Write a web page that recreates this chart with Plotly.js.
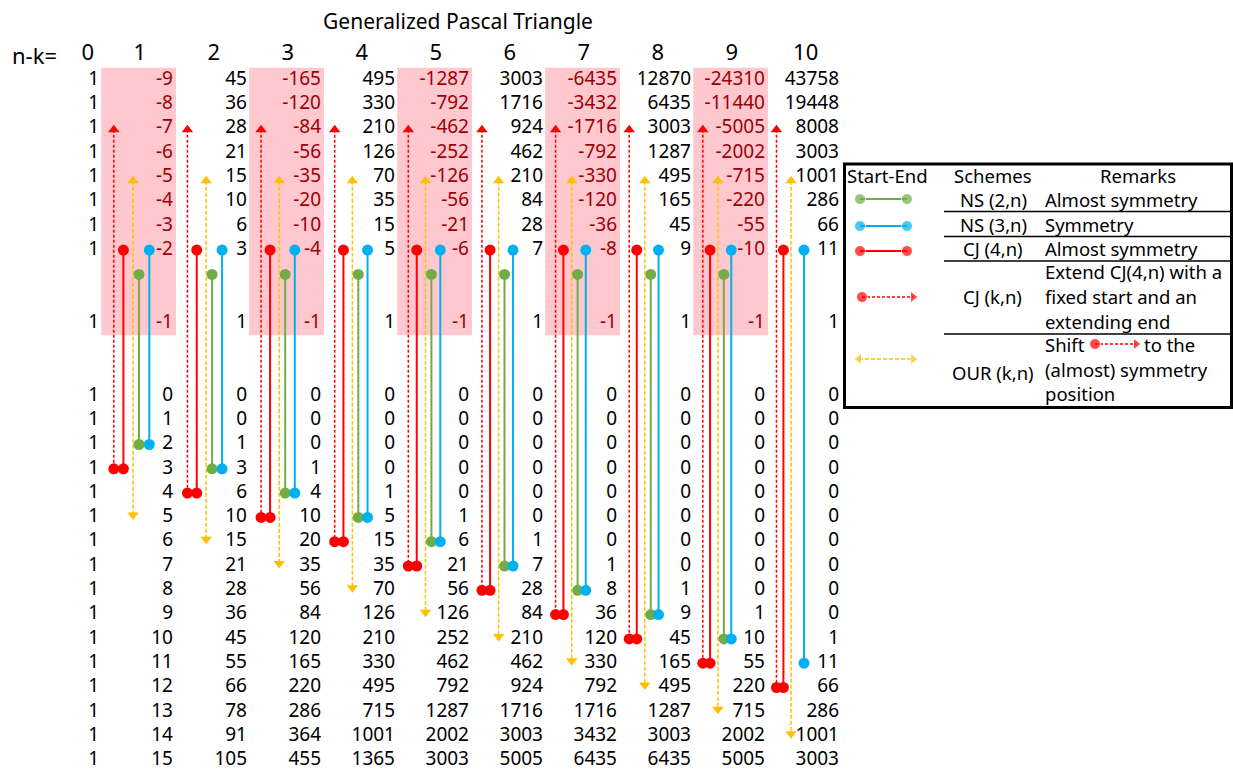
<!DOCTYPE html>
<html><head><meta charset="utf-8">
<script src="https://cdn.plot.ly/plotly-3.0.1.min.js"></script>
<style>html,body{margin:0;padding:0;background:#fff;}#chart{width:1233px;height:771px;}</style>
</head><body><div id="chart"></div>
<script>
// ---------- data ----------
const colLabels = ['0','1','2','3','4','5','6','7','8','9','10'];
const upperBlock = [
  [1,-9,45,-165,495,-1287,3003,-6435,12870,-24310,43758],
  [1,-8,36,-120,330,-792,1716,-3432,6435,-11440,19448],
  [1,-7,28,-84,210,-462,924,-1716,3003,-5005,8008],
  [1,-6,21,-56,126,-252,462,-792,1287,-2002,3003],
  [1,-5,15,-35,70,-126,210,-330,495,-715,1001],
  [1,-4,10,-20,35,-56,84,-120,165,-220,286],
  [1,-3,6,-10,15,-21,28,-36,45,-55,66],
  [1,-2,3,-4,5,-6,7,-8,9,-10,11]
];
const unitRow = [1,-1,1,-1,1,-1,1,-1,1,-1,1];
const lowerBlock = [
  [1,0,0,0,0,0,0,0,0,0,0],
  [1,1,0,0,0,0,0,0,0,0,0],
  [1,2,1,0,0,0,0,0,0,0,0],
  [1,3,3,1,0,0,0,0,0,0,0],
  [1,4,6,4,1,0,0,0,0,0,0],
  [1,5,10,10,5,1,0,0,0,0,0],
  [1,6,15,20,15,6,1,0,0,0,0],
  [1,7,21,35,35,21,7,1,0,0,0],
  [1,8,28,56,70,56,28,8,1,0,0],
  [1,9,36,84,126,126,84,36,9,1,0],
  [1,10,45,120,210,252,210,120,45,10,1],
  [1,11,55,165,330,462,462,330,165,55,11],
  [1,12,66,220,495,792,924,792,495,220,66],
  [1,13,78,286,715,1287,1716,1716,1287,715,286],
  [1,14,91,364,1001,2002,3003,3432,3003,2002,1001],
  [1,15,105,455,1365,3003,5005,6435,6435,5005,3003]
];
// scheme start/end (column n-k, and end row n of lower block)
const cjCols  = [1,2,3,4,5,6,7,8,9,10];
const cjEnd   = [3,4,5,6,7,8,9,10,11,12];
const ns3Cols = [1,2,3,4,5,6,7,8,9,10];
const ns3End  = [2,3,4,5,6,7,8,9,10,11];
const ns2Cols = [1,2,3,4,5,6,7,8,9];
const ns2End  = [2,3,4,5,6,7,8,9,10];
const ourCols = [1,2,3,4,5,6,7,8,9,10];
const ourEnd  = [5,6,7,8,9,10,11,12,13,14];
const shadedCols = [1,3,5,7,9];

// ---------- layout constants ----------
const RED='#FF0000', GREEN='#70AD47', BLUE='#00B0F0', GOLD='#FFC000',
      PINK='#FFC7CE', DARKRED='#9C0006', FONT='Noto Sans, Open Sans, sans-serif';
const UNIT_Y = 10, LOWER_Y0 = 13, HEADER_Y = -1.03;
const START_Y = 7, NS2_START_Y = 8, CJK_TIP_Y = 2.05, OUR_TIP_Y = 4.15;
const lowerY = n => LOWER_Y0 + n;
const offX = (c, base, slope) => c - base - slope * (c - 1);
const X_CJK = c => offX(c, 0.80, 0.005);
const X_CJ4 = c => offX(c, 0.67, 0.009);
const X_OUR = c => offX(c, 0.54, 0.012);
const X_NS2 = c => offX(c, 0.46, 0.012);
const X_NS3 = c => offX(c, 0.32, 0.017);
const DOT = 11, TRI = 10;

const traces = [];

// numbers: upper block + unit row
(function(){
  const x=[],y=[],t=[],col=[];
  upperBlock.forEach((row,i)=>row.forEach((v,c)=>{x.push(c);y.push(i);t.push(String(v));col.push(c%2?DARKRED:'#000000');}));
  unitRow.forEach((v,c)=>{x.push(c);y.push(UNIT_Y);t.push(String(v));col.push(c%2?DARKRED:'#000000');});
  traces.push({type:'scatter',mode:'text',x:x,y:y,text:t,textposition:'middle left',
    textfont:{family:FONT,size:19,color:col},hoverinfo:'skip',showlegend:false});
})();
// numbers: lower block
(function(){
  const x=[],y=[],t=[];
  lowerBlock.forEach((row,n)=>row.forEach((v,c)=>{x.push(c);y.push(lowerY(n));t.push(String(v));}));
  traces.push({type:'scatter',mode:'text',x:x,y:y,text:t,textposition:'middle left',
    textfont:{family:FONT,size:19,color:'#000000'},hoverinfo:'skip',showlegend:false});
})();
// column headers
traces.push({type:'scatter',mode:'text',
  x:colLabels.map((s,c)=>c===0?-0.15:c-0.45), y:colLabels.map(()=>HEADER_Y), text:colLabels,
  textposition:'middle center',textfont:{family:FONT,size:22,color:'#000000'},hoverinfo:'skip',showlegend:false});

function segTrace(cols, xf, y0f, y1f, opts){
  const x=[],y=[],sym=[];
  cols.forEach((c,i)=>{const xx=xf(c); x.push(xx,xx,null); y.push(y0f(c,i),y1f(c,i),null); sym.push(opts.s0,opts.s1,'circle');});
  return {type:'scatter',mode:'lines+markers',x:x,y:y,connectgaps:false,cliponaxis:false,
    line:{color:opts.color,width:opts.width,dash:opts.dash||'solid'},
    marker:{color:opts.color,opacity:1,size:sym.map(s=>s==='circle'?DOT:TRI),symbol:sym,line:{width:0}},
    hoverinfo:'skip',showlegend:false};
}
// CJ(k,n): dashed red, arrow up, dot at end
traces.push(segTrace(cjCols, X_CJK, ()=>CJK_TIP_Y, (c,i)=>lowerY(cjEnd[i]),
  {color:RED,width:1.5,dash:'3px,2px',s0:'triangle-up',s1:'circle'}));
// OUR(k,n): dashed gold double arrow
traces.push(segTrace(ourCols, X_OUR, ()=>OUR_TIP_Y, (c,i)=>lowerY(ourEnd[i]) - 0.1,
  {color:GOLD,width:1.5,dash:'4px,2px',s0:'triangle-up',s1:'triangle-down'}));
// CJ(4,n)
traces.push(segTrace(cjCols, X_CJ4, ()=>START_Y, (c,i)=>lowerY(cjEnd[i]),
  {color:RED,width:2,s0:'circle',s1:'circle'}));
// NS(2,n)
traces.push(segTrace(ns2Cols, X_NS2, ()=>NS2_START_Y, (c,i)=>lowerY(ns2End[i]),
  {color:GREEN,width:2,s0:'circle',s1:'circle'}));
// NS(3,n)
traces.push(segTrace(ns3Cols, X_NS3, ()=>START_Y, (c,i)=>lowerY(ns3End[i]),
  {color:BLUE,width:2,s0:'circle',s1:'circle'}));

// ---------- legend table (pixel axes x2/y2) ----------
function swatch(x, y, color, dash, syms, width){
  return {type:'scatter',mode:'lines+markers',x:x,y:y,xaxis:'x2',yaxis:'y2',cliponaxis:false,
    line:{color:color,width:width,dash:dash},marker:{color:color,size:syms.map(s=>s==='circle'?DOT:TRI),symbol:syms},
    hoverinfo:'skip',showlegend:false};
}
traces.push(swatch([860,907],[199,199],GREEN,'solid',['circle','circle'],2));
traces.push(swatch([860,907],[226,226],BLUE,'solid',['circle','circle'],2));
traces.push(swatch([860,907],[251,251],RED,'solid',['circle','circle'],2));
traces.push(swatch([862,913],[297,297],RED,'3px,2px',['circle','triangle-right'],1.5));
traces.push(swatch([859,913],[359,359],GOLD,'4px,2px',['triangle-left','triangle-right'],1.5));
traces.push(swatch([1095,1136],[344,344],RED,'3px,2px',['circle','triangle-right'],1.5));

const shapes = shadedCols.map(c=>({type:'rect',xref:'x',yref:'y',x0:c-0.97,x1:c+0.04,y0:-0.5,y1:10.5,
  fillcolor:PINK,line:{width:0},layer:'below'}));
shapes.push({type:'rect',xref:'x2',yref:'y2',x0:844.5,x1:1231.5,y0:164,y1:407.5,line:{color:'#000',width:3},layer:'above'});
[211.5,236.5,261,334].forEach(yy=>shapes.push({type:'line',xref:'x2',yref:'y2',x0:944,x1:1232,y0:yy,y1:yy,line:{color:'#000',width:1.5}}));

const lf = {family:FONT,size:18.5,color:'#000000'};
function ann(text,x,y,anchor){return {text:text,x:x,y:y,xref:'x2',yref:'y2',xanchor:anchor,yanchor:'middle',showarrow:false,font:lf,borderpad:0};}
const annotations = [
  ann('Start-End',846,175,'left'), ann('Schemes',993,175,'center'), ann('Remarks',1138,175,'center'),
  ann('NS (2,n)',993,199,'center'), ann('NS (3,n)',993,224,'center'), ann('CJ (4,n)',993,248,'center'),
  ann('CJ (k,n)',992,296,'center'), ann('OUR (k,n)',993,372,'center'),
  ann('Almost symmetry',1044,199,'left'), ann('Symmetry',1044,224,'left'), ann('Almost symmetry',1044,248,'left'),
  ann('Extend CJ(4,n) with a',1044,271,'left'), ann('fixed start and an',1044,296,'left'), ann('extending end',1044,321,'left'),
  ann('Shift',1044,344,'left'), ann('to the',1143,344,'left'), ann('(almost) symmetry',1044,369,'left'), ann('position',1044,393,'left'),
  {text:'n-k=',x:-0.87,y:HEADER_Y,xref:'x',yref:'y',xanchor:'center',yanchor:'middle',showarrow:false,borderpad:0,font:{family:FONT,size:22,color:'#000'}}
];

const PXW=1233, PXH=771, X0PX=99, XSTEP=74, Y0PX=80, YSTEP=24.3;
const layout = {
  width:PXW,height:PXH,margin:{l:0,r:0,t:0,b:0},paper_bgcolor:'#fff',plot_bgcolor:'#fff',
  title:{text:'Generalized Pascal Triangle',x:458/PXW,xref:'paper',xanchor:'center',y:1-22/PXH,yref:'container',yanchor:'middle',
    font:{family:FONT,size:21,color:'#000'}},
  xaxis:{range:[-X0PX/XSTEP,(PXW-X0PX)/XSTEP],visible:false,fixedrange:true},
  yaxis:{range:[(PXH-Y0PX)/YSTEP,-Y0PX/YSTEP],visible:false,fixedrange:true},
  xaxis2:{range:[0,PXW],overlaying:'x',visible:false,fixedrange:true},
  yaxis2:{range:[PXH,0],overlaying:'y',visible:false,fixedrange:true},
  shapes:shapes,annotations:annotations,showlegend:false
};
Plotly.newPlot('chart',traces,layout,{staticPlot:true,displayModeBar:false});
</script></body></html>
